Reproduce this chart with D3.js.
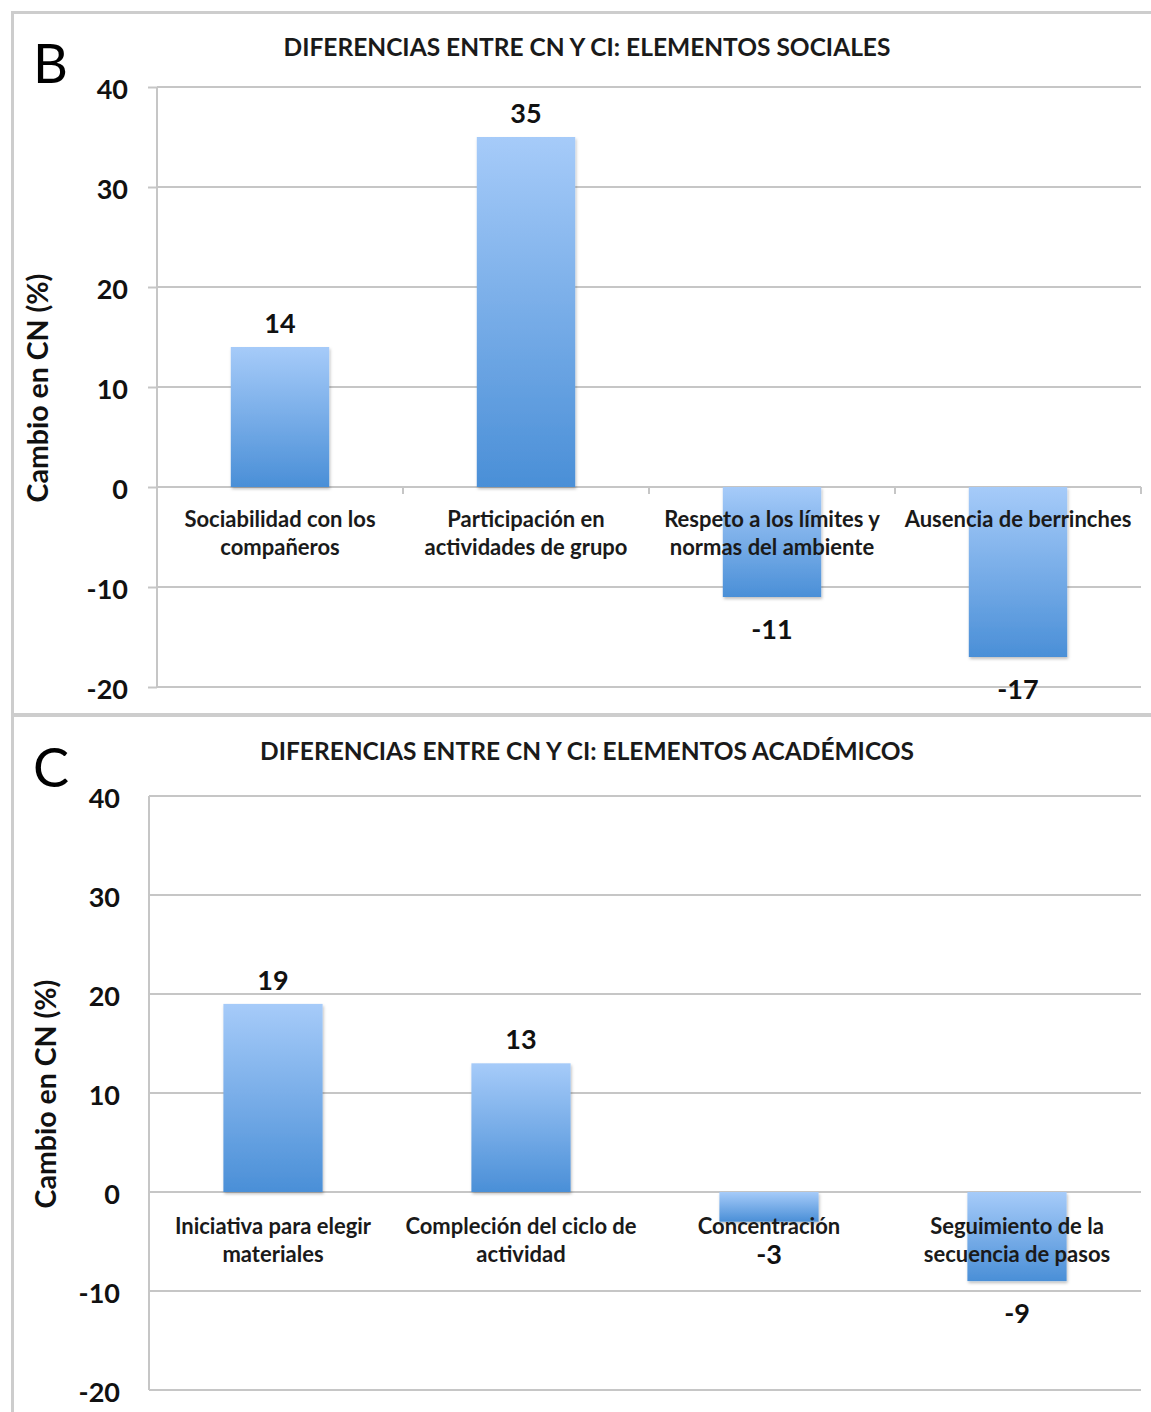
<!DOCTYPE html>
<html>
<head>
<meta charset="utf-8">
<script src="https://cdn.jsdelivr.net/npm/d3@7"></script>
<style>
  html, body { margin: 0; padding: 0; background: #fff; }
  svg { display: block; font-family: Lato, "Open Sans", sans-serif; }
</style>
</head>
<body>
<svg id="chart" width="1151" height="1412"></svg>
<script>
// Panel B: social elements
const socialTitle = "DIFERENCIAS ENTRE CN Y CI: ELEMENTOS SOCIALES";
const socialCategories = [
  ["Sociabilidad con los", "compañeros"],
  ["Participación en", "actividades de grupo"],
  ["Respeto a los límites y", "normas del ambiente"],
  ["Ausencia de berrinches"]
];
const socialValues = [14, 35, -11, -17];

// Panel C: academic elements
const academicTitle = "DIFERENCIAS ENTRE CN Y CI: ELEMENTOS ACADÉMICOS";
const academicCategories = [
  ["Iniciativa para elegir", "materiales"],
  ["Compleción del ciclo de", "actividad"],
  ["Concentración"],
  ["Seguimiento de la", "secuencia de pasos"]
];
const academicValues = [19, 13, -3, -9];

const yTicks = [40, 30, 20, 10, 0, -10, -20];
const yDomain = [-20, 40];
const yAxisTitle = "Cambio en CN (%)";

const svg = d3.select("#chart");

// gradient shared by all bars: light at the top, deeper blue at the bottom
const defs = svg.append("defs");
const grad = defs.append("linearGradient")
  .attr("id", "barGrad").attr("x1", 0).attr("y1", 0).attr("x2", 0).attr("y2", 1);
grad.append("stop").attr("offset", "0%").attr("stop-color", "#a6cbf9");
grad.append("stop").attr("offset", "100%").attr("stop-color", "#4a8fd7");
const shadow = defs.append("filter").attr("id", "barShadow")
  .attr("x", "-10%").attr("y", "-10%").attr("width", "130%").attr("height", "130%");
shadow.append("feDropShadow").attr("dx", 1).attr("dy", 2).attr("stdDeviation", 1.5)
  .attr("flood-color", "#000").attr("flood-opacity", 0.25);

// frame around the two panels
const frameColor = "#cdcdcd";
svg.append("line").attr("x1", 12).attr("x2", 1151).attr("y1", 12.5).attr("y2", 12.5)
  .attr("stroke", frameColor).attr("stroke-width", 3);
svg.append("line").attr("x1", 12.5).attr("x2", 12.5).attr("y1", 11).attr("y2", 1412)
  .attr("stroke", frameColor).attr("stroke-width", 3);
svg.append("line").attr("x1", 12).attr("x2", 1151).attr("y1", 715).attr("y2", 715)
  .attr("stroke", frameColor).attr("stroke-width", 4);

function drawPanel(opt) {
  const g = svg.append("g");
  const y = d3.scaleLinear().domain(yDomain).range([opt.bottom, opt.top]);
  const x = d3.scaleBand().domain(d3.range(opt.categories.length))
    .range([opt.left, opt.right]).paddingInner(0.6).paddingOuter(0.3);
  const step = x.step();

  // panel letter
  g.append("text").attr("x", 33).attr("y", opt.letterY)
    .attr("font-size", 54).attr("font-weight", 400).attr("fill", "#000")
    .text(opt.letter);

  // chart title
  g.append("text").attr("x", 587).attr("y", opt.titleY)
    .attr("text-anchor", "middle").attr("font-size", 24.5).attr("font-weight", 700)
    .attr("fill", "#1a1a1a").text(opt.title);

  // horizontal gridlines
  g.append("g").selectAll("line").data(yTicks).join("line")
    .attr("x1", opt.left).attr("x2", opt.right)
    .attr("y1", d => y(d)).attr("y2", d => y(d))
    .attr("stroke", "#c6c6c6").attr("stroke-width", 2);

  // y axis with tick labels (plain hyphen for negatives)
  const axis = g.append("g").attr("transform", `translate(${opt.left},0)`)
    .call(d3.axisLeft(y).tickValues(yTicks).tickSize(opt.tickSize)
      .tickPadding(opt.tickPadding).tickFormat(d => String(d)));
  axis.select(".domain").attr("stroke", "#c6c6c6").attr("stroke-width", 2)
    .attr("d", `M0,${opt.top}V${opt.bottom}`);
  axis.selectAll(".tick line").attr("stroke", "#c6c6c6").attr("stroke-width", 2);
  axis.selectAll(".tick text").attr("font-size", 27).attr("font-weight", 700)
    .attr("fill", "#111").attr("dy", "0.42em").attr("font-family", "Lato, sans-serif");

  // category boundary ticks under the zero line
  if (opt.xTicks) {
    g.append("g").selectAll("line").data(d3.range(opt.categories.length + 1)).join("line")
      .attr("x1", i => opt.left + i * step).attr("x2", i => opt.left + i * step)
      .attr("y1", y(0)).attr("y2", y(0) + 7)
      .attr("stroke", "#c6c6c6").attr("stroke-width", 2);
  }

  // y axis title
  g.append("text")
    .attr("transform", `translate(${opt.yTitleX},${(opt.top + opt.bottom) / 2 + 1}) rotate(-90)`)
    .attr("text-anchor", "middle").attr("font-size", 28.5).attr("font-weight", 700)
    .attr("fill", "#111").text(yAxisTitle);

  // bars
  g.append("g").selectAll("rect").data(opt.values).join("rect")
    .attr("x", (d, i) => x(i)).attr("width", x.bandwidth())
    .attr("y", d => y(Math.max(0, d)))
    .attr("height", d => Math.abs(y(d) - y(0)))
    .attr("fill", "url(#barGrad)").attr("filter", "url(#barShadow)");

  // category labels
  const cat = g.append("g").selectAll("text").data(opt.categories).join("text")
    .attr("text-anchor", "middle").attr("font-size", 22).attr("font-weight", 700)
    .attr("fill", "#1a1a1a");
  cat.selectAll("tspan").data((d, i) => d.map(line => ({ line, i }))).join("tspan")
    .attr("x", d => x(d.i) + x.bandwidth() / 2)
    .attr("y", (d, j) => y(0) + opt.catOffset + j * 28)
    .text(d => d.line);

  // value labels
  g.append("g").selectAll("text").data(opt.values).join("text")
    .attr("x", (d, i) => x(i) + x.bandwidth() / 2)
    .attr("y", d => d >= 0 ? y(d) - 14 : y(d) + 42)
    .attr("text-anchor", "middle").attr("font-size", 27).attr("font-weight", 700)
    .attr("fill", "#111").text(d => d);
}

drawPanel({
  letter: "B", letterY: 83, title: socialTitle, titleY: 56,
  categories: socialCategories, values: socialValues,
  left: 157, right: 1141, top: 87, bottom: 687,
  tickSize: 9, tickPadding: 20, xTicks: true, yTitleX: 48, catOffset: 40
});

drawPanel({
  letter: "C", letterY: 787, title: academicTitle, titleY: 760,
  categories: academicCategories, values: academicValues,
  left: 149, right: 1141, top: 796, bottom: 1390,
  tickSize: 0, tickPadding: 29, xTicks: false, yTitleX: 56, catOffset: 42
});
</script>
</body>
</html>
